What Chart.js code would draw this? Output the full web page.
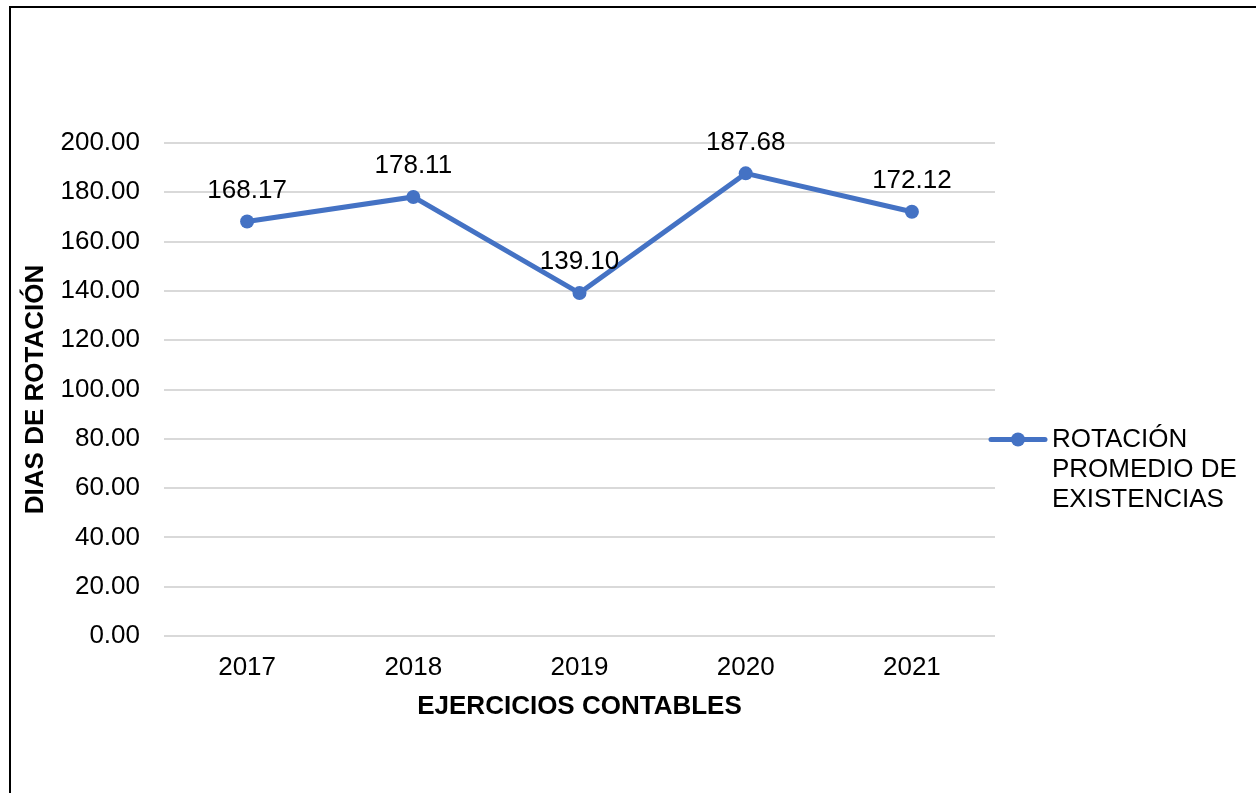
<!DOCTYPE html>
<html>
<head>
<meta charset="utf-8">
<script src="https://cdn.jsdelivr.net/npm/chart.js@4"></script>
<style>
    html, body { margin: 0; padding: 0; background: #fff; overflow: hidden; }
    #marco {
        position: absolute; left: 9px; top: 6px;
        width: 1400px; height: 1000px;
        border: 2px solid #000;
    }
    #grafico { position: absolute; left: 0; top: 0; }
</style>
</head>
<body>
<div id="marco"></div>
<canvas id="grafico" width="1256" height="793"></canvas>
<script>
const anni = ["2017", "2018", "2019", "2020", "2021"];
const rotazione = [168.17, 178.11, 139.10, 187.68, 172.12];
const nomeSerie = ["ROTACIÓN", "PROMEDIO DE", "EXISTENCIAS"];
const titoloX = "EJERCICIOS CONTABLES";
const titoloY = "DIAS DE ROTACIÓN";

const blu = "#4472C4";
const fontBase = "Arial, 'Liberation Sans', sans-serif";

// etichette dei valori sopra i punti
const etichette = {
    id: "etichette",
    afterDatasetsDraw(chart) {
        const ctx = chart.ctx;
        const meta = chart.getDatasetMeta(0);
        ctx.save();
        ctx.font = "26px " + fontBase;
        ctx.fillStyle = "#000";
        ctx.textAlign = "center";
        ctx.textBaseline = "middle";
        meta.data.forEach((p, i) => {
            ctx.fillText(rotazione[i].toFixed(2), p.x, p.y - 31);
        });
        ctx.restore();
    }
};

// legenda a destra, su tre righe
const legenda = {
    id: "legenda",
    afterDraw(chart) {
        const ctx = chart.ctx;
        const y = (chart.chartArea.top + chart.chartArea.bottom) / 2 + 50;
        const x0 = chart.chartArea.right - 4;
        ctx.save();
        ctx.strokeStyle = blu;
        ctx.lineWidth = 5;
        ctx.lineCap = "round";
        ctx.beginPath();
        ctx.moveTo(x0, y);
        ctx.lineTo(x0 + 54, y);
        ctx.stroke();
        ctx.fillStyle = blu;
        ctx.beginPath();
        ctx.arc(x0 + 27, y, 7, 0, Math.PI * 2);
        ctx.fill();
        ctx.font = "26px " + fontBase;
        ctx.fillStyle = "#000";
        ctx.textAlign = "left";
        ctx.textBaseline = "middle";
        nomeSerie.forEach((riga, i) => {
            ctx.fillText(riga, x0 + 61, y + i * 30);
        });
        ctx.restore();
    }
};

const ctx = document.getElementById("grafico").getContext("2d");
new Chart(ctx, {
    type: "line",
    data: {
        labels: anni,
        datasets: [{
            label: nomeSerie.join(" "),
            data: rotazione,
            borderColor: blu,
            backgroundColor: blu,
            borderWidth: 5,
            pointRadius: 7,
            pointHoverRadius: 7,
            pointBackgroundColor: blu,
            pointBorderWidth: 0,
            tension: 0,
            fill: false
        }]
    },
    options: {
        responsive: false,
        animation: false,
        layout: { padding: { left: 0, right: 261, top: 143, bottom: 0 } },
        plugins: {
            legend: { display: false },
            tooltip: { enabled: false }
        },
        scales: {
            x: {
                offset: true,
                afterFit: s => { s.height = 157; },
                grid: { display: false, drawTicks: false },
                border: { display: false },
                ticks: {
                    padding: 16,
                    color: "#000",
                    font: { family: fontBase, size: 26 }
                },
                title: {
                    display: true,
                    text: titoloX,
                    color: "#000",
                    padding: { top: 0, bottom: 71 },
                    font: { family: fontBase, size: 26, weight: "bold" }
                }
            },
            y: {
                min: 0,
                max: 200,
                afterFit: s => { s.width = 164; },
                grid: { color: "#d9d9d9", lineWidth: 2, drawTicks: false },
                border: { display: false },
                ticks: {
                    stepSize: 20,
                    padding: 24,
                    color: "#000",
                    font: { family: fontBase, size: 26 },
                    callback: v => v.toFixed(2)
                },
                title: {
                    display: true,
                    text: titoloY,
                    color: "#000",
                    padding: { top: 20, bottom: 0 },
                    font: { family: fontBase, size: 26, weight: "bold" }
                }
            }
        }
    },
    plugins: [etichette, legenda]
});
</script>
</body>
</html>
